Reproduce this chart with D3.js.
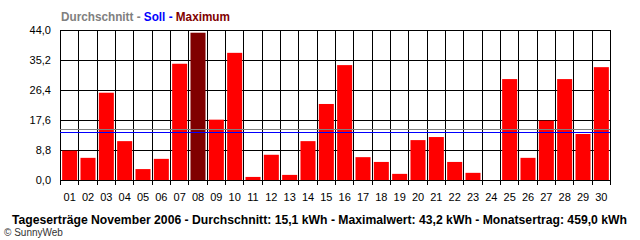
<!DOCTYPE html>
<meta charset="utf-8">
<script src="https://d3js.org/d3.v7.min.js"></script>
<style>
  body { margin: 0; background: #fff; }
  text { font-family: "Liberation Sans", Arial, sans-serif; }
</style>
<div id="chart"></div>
<script>
  // daily yields in kWh, November 2006
  var days = ["01","02","03","04","05","06","07","08","09","10","11","12","13","14","15",
              "16","17","18","19","20","21","22","23","24","25","26","27","28","29","30"];
  var yields = [8.6, 6.5, 25.6, 11.4, 3.2, 6.2, 34.1, 43.2, 17.7, 37.3, 0.9, 7.4, 1.5, 11.4, 22.3,
                33.7, 6.7, 5.3, 1.8, 11.7, 12.6, 5.3, 2.1, 0, 29.6, 6.5, 17.4, 29.6, 13.5, 33.1];
  var yTicks = [0, 8.8, 17.6, 26.4, 35.2, 44.0];
  var average = 15.1;
  var target = 14.0;
  var legendParts = [
    {text: "Durchschnitt - ", color: "#808080"},
    {text: "Soll - ", color: "#0000ff"},
    {text: "Maximum", color: "#800000"}
  ];
  var caption = "Tageserträge November 2006 - Durchschnitt: 15,1 kWh - Maximalwert: 43,2 kWh - Monatsertrag: 459,0 kWh";

  var width = 640, height = 240;
  var margin = {top: 30, right: 30, bottom: 60, left: 60};

  var svg = d3.select("#chart").append("svg")
    .attr("width", width)
    .attr("height", height);

  var x = d3.scaleBand()
    .domain(days)
    .range([margin.left, width - margin.right])
    .padding(0);

  var y = d3.scaleLinear()
    .domain([0, 44])
    .range([height - margin.bottom, margin.top]);

  var fmt = function(v) { return d3.format(".1f")(v).replace(".", ","); };
  var maxVal = d3.max(yields);

  // horizontal grid
  svg.append("g")
    .selectAll("line")
    .data(yTicks)
    .enter().append("line")
      .attr("x1", margin.left)
      .attr("x2", width - margin.right + 1)
      .attr("y1", function(d) { return Math.round(y(d)) + 0.5; })
      .attr("y2", function(d) { return Math.round(y(d)) + 0.5; })
      .style("stroke", "#000")
      .style("stroke-width", 1);

  // vertical grid at category boundaries (plus ticks below axis)
  var edges = days.map(function(d) { return x(d); }).concat([x.range()[1]]);
  svg.append("g")
    .selectAll("line")
    .data(edges)
    .enter().append("line")
      .attr("x1", function(d) { return Math.round(d) + 0.5; })
      .attr("x2", function(d) { return Math.round(d) + 0.5; })
      .attr("y1", y(44))
      .attr("y2", y(0) + 5)
      .style("stroke", "#000")
      .style("stroke-width", 1);

  // y labels
  svg.append("g")
    .selectAll("text")
    .data(yTicks)
    .enter().append("text")
      .attr("x", margin.left - 9)
      .attr("y", function(d) { return y(d) + 4; })
      .attr("text-anchor", "end")
      .style("font-size", "11px")
      .text(fmt);

  // bars
  var inset = x.bandwidth() * 0.09;
  svg.append("g")
    .selectAll("rect")
    .data(yields)
    .enter().append("rect")
      .attr("x", function(d, i) { return x(days[i]) + inset + 0.5; })
      .attr("width", x.bandwidth() - 2 * inset)
      .attr("y", function(d) { return y(d); })
      .attr("height", function(d) { return y(0) - y(d); })
      .style("fill", function(d) { return d === maxVal ? "#800000" : "#ff0000"; });

  // x labels
  svg.append("g")
    .selectAll("text")
    .data(days)
    .enter().append("text")
      .attr("x", function(d) { return x(d) + x.bandwidth() / 2 + 0.5; })
      .attr("y", y(0) + 21)
      .attr("text-anchor", "middle")
      .style("font-size", "11px")
      .text(function(d) { return d; });

  // average and target lines
  svg.append("line")
    .attr("x1", margin.left).attr("x2", width - margin.right)
    .attr("y1", Math.round(y(average)) + 0.5).attr("y2", Math.round(y(average)) + 0.5)
    .style("stroke", "#808080");
  svg.append("line")
    .attr("x1", margin.left).attr("x2", width - margin.right)
    .attr("y1", Math.round(y(target)) + 0.5).attr("y2", Math.round(y(target)) + 0.5)
    .style("stroke", "#0000ff");

  // legend title
  var legend = svg.append("text")
    .attr("x", 61)
    .attr("y", 21)
    .attr("textLength", 169)
    .attr("lengthAdjust", "spacingAndGlyphs")
    .style("font-size", "12px")
    .style("font-weight", "bold");
  legend.selectAll("tspan")
    .data(legendParts)
    .enter().append("tspan")
      .style("fill", function(d) { return d.color; })
      .attr("xml:space", "preserve")
      .text(function(d) { return d.text; });

  // caption
  svg.append("text")
    .attr("x", 12)
    .attr("y", 224)
    .attr("textLength", 615)
    .attr("lengthAdjust", "spacingAndGlyphs")
    .style("font-size", "12px")
    .style("font-weight", "bold")
    .text(caption);

  svg.append("text")
    .attr("x", 4)
    .attr("y", 236)
    .style("font-size", "10px")
    .style("fill", "#333")
    .text("© SunnyWeb");
</script>
